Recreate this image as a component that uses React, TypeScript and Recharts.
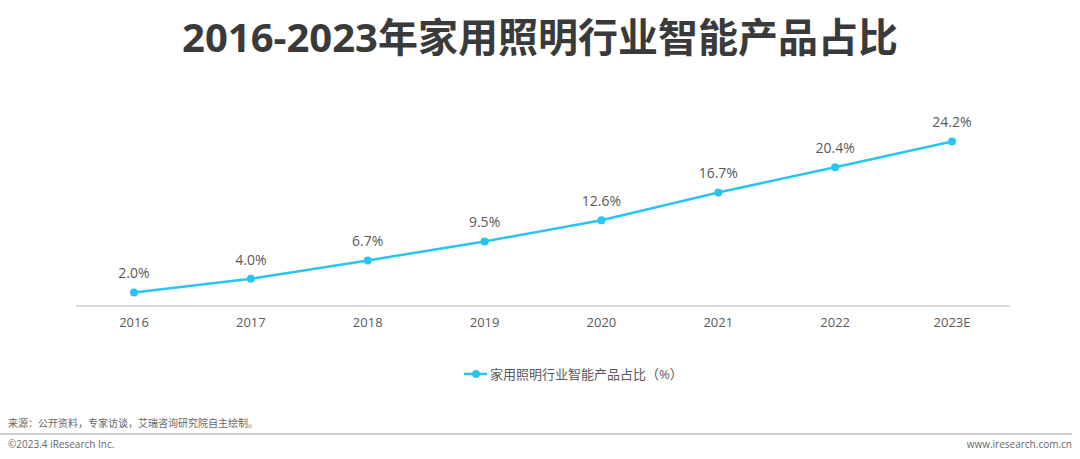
import React from "react";
import { LineChart, Line, XAxis, YAxis, LabelList } from "recharts";

const years = ["2016", "2017", "2018", "2019", "2020", "2021", "2022", "2023E"];
const shares = [2.0, 4.0, 6.7, 9.5, 12.6, 16.7, 20.4, 24.2];
const seriesName = "家用照明行业智能产品占比（%）";

const FONT = '"Open Sans", "Noto Sans CJK SC", sans-serif';
const LINE = "#29c4ef";

const data = years.map((year, i) => ({ year, share: shares[i] }));

export default function App() {
  return (
    <div style={{ position: "absolute", left: 0, top: 0, width: 1080, height: 459, background: "#fff", fontFamily: FONT, overflow: "hidden" }}>
      <div style={{ position: "absolute", top: 9, left: 0, width: 1080, textAlign: "center", fontSize: 40, fontWeight: 700, color: "#3a3a3a", lineHeight: "56px" }}>
        2016-2023年家用照明行业智能产品占比
      </div>
      <div style={{ position: "absolute", top: 0, left: 0 }}>
        <LineChart width={1080} height={340} data={data} margin={{ top: 102, right: 70, bottom: 4, left: 76 }}>
          <XAxis
            dataKey="year"
            padding={{ left: 58, right: 58 }}
            axisLine={{ stroke: "#d9d9d9", strokeWidth: 2 }}
            tickLine={false}
            tickSize={0}
            tickMargin={12}
            tick={{ fill: "#595959", fontSize: 13, fontFamily: FONT }}
            height={30}
          />
          <YAxis hide domain={[0, 30]} />
          <Line
            dataKey="share"
            name={seriesName}
            stroke={LINE}
            strokeWidth={2.5}
            dot={{ r: 4, fill: LINE, stroke: LINE, strokeWidth: 0 }}
            activeDot={false}
            isAnimationActive={false}
          >
            <LabelList
              dataKey="share"
              position="top"
              offset={14}
              formatter={(v: number) => `${v.toFixed(1)}%`}
              style={{ fill: "#595959", fontSize: 14, fontFamily: FONT }}
            />
          </Line>
        </LineChart>
      </div>
      <div style={{ position: "absolute", top: 365, left: 464, display: "flex", alignItems: "center", fontSize: 13, color: "#595959", lineHeight: "18px" }}>
        <svg width={24} height={12} style={{ marginRight: 2 }}>
          <line x1={0} y1={6} x2={23} y2={6} stroke={LINE} strokeWidth={2.5} />
          <circle cx={12} cy={6} r={4} fill={LINE} />
        </svg>
        <span>{seriesName}</span>
      </div>
      <div style={{ position: "absolute", top: 416, left: 8, fontSize: 10, color: "#666", lineHeight: "14px" }}>
        来源：公开资料，专家访谈，艾瑞咨询研究院自主绘制。
      </div>
      <div style={{ position: "absolute", top: 433, left: 0, width: 1072, height: 2, background: "#cfcfcf" }} />
      <div style={{ position: "absolute", top: 437, left: 8, fontSize: 10, color: "#666", lineHeight: "14px" }}>
        ©2023.4 iResearch Inc.
      </div>
      <div style={{ position: "absolute", top: 437, right: 8, fontSize: 10, color: "#666", lineHeight: "14px" }}>
        www.iresearch.com.cn
      </div>
    </div>
  );
}
